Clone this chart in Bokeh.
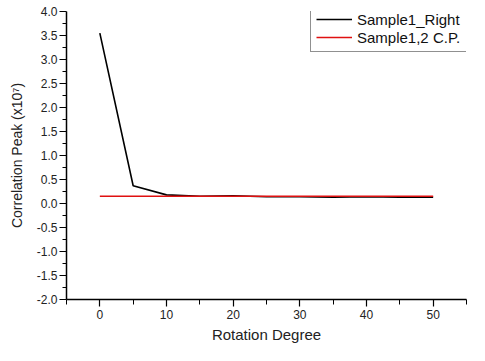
from bokeh.plotting import figure
from bokeh.models import FixedTicker, Range1d, Legend, LegendItem, NumeralTickFormatter
from bokeh.embed import file_html
from bokeh.resources import INLINE

# Data
rotation = [0, 5, 10, 15, 20, 25, 30, 35, 40, 45, 50]
sample1_right = [3.55, 0.37, 0.18, 0.15, 0.16, 0.14, 0.14, 0.13, 0.14, 0.13, 0.13]
sample12_cp = [0.15, 0.15, 0.15, 0.15, 0.15, 0.15, 0.15, 0.15, 0.15, 0.15, 0.15]

x_major = [0, 10, 20, 30, 40, 50]
x_minor = [-5, 5, 15, 25, 35, 45, 55]
y_major = [-2.0, -1.5, -1.0, -0.5, 0.0, 0.5, 1.0, 1.5, 2.0, 2.5, 3.0, 3.5, 4.0]
y_minor = [-1.75, -1.25, -0.75, -0.25, 0.25, 0.75, 1.25, 1.75, 2.25, 2.75, 3.25, 3.75]

FONT = "Liberation Sans"

p = figure(width=469, height=345, output_backend="svg", toolbar_location=None,
           x_range=Range1d(-5, 55), y_range=Range1d(-2, 4),
           min_border_left=66, min_border_right=3, min_border_top=11, min_border_bottom=43)

p.outline_line_color = None
p.grid.visible = False
p.background_fill_color = "white"
p.border_fill_color = "white"

r1 = p.line(rotation, sample1_right, line_color="black", line_width=1.6)
r2 = p.line(rotation, sample12_cp, line_color="#e01010", line_width=1.6)

p.xaxis.ticker = FixedTicker(ticks=x_major, minor_ticks=x_minor)
p.yaxis.ticker = FixedTicker(ticks=y_major, minor_ticks=y_minor)
p.yaxis.formatter = NumeralTickFormatter(format="0.0")

for ax in (p.xaxis, p.yaxis):
    ax.axis_line_color = "black"
    ax.axis_line_width = 1.5
    ax.major_tick_line_color = "black"
    ax.minor_tick_line_color = "black"
    ax.major_tick_line_width = 1.2
    ax.minor_tick_line_width = 1.0
    ax.major_tick_out = 7
    ax.major_tick_in = 0
    ax.minor_tick_in = 0
    ax.major_label_text_font = FONT
    ax.major_label_text_font_size = "12px"
    ax.major_label_text_color = "#222222"
    ax.axis_label_text_font = FONT
    ax.axis_label_text_font_style = "normal"
    ax.axis_label_text_color = "#222222"

p.xaxis.minor_tick_out = 5
p.yaxis.minor_tick_out = 4
p.xaxis.axis_label = "Rotation Degree"
p.yaxis.axis_label = "Correlation Peak (x10⁷)"
p.xaxis.axis_label_text_font_size = "15px"
p.yaxis.axis_label_text_font_size = "14px"
p.xaxis.major_label_standoff = 3
p.xaxis.axis_label_standoff = 4
p.yaxis.major_label_standoff = 2
p.yaxis.axis_label_standoff = 9

legend = Legend(items=[LegendItem(label="Sample1_Right", renderers=[r1]),
                       LegendItem(label="Sample1,2 C.P.", renderers=[r2])],
                location=(244, 247))
legend.border_line_color = "#222222"
legend.border_line_width = 1
legend.background_fill_color = "white"
legend.background_fill_alpha = 1
legend.label_text_font = FONT
legend.label_text_font_size = "15px"
legend.label_text_color = "#111111"
legend.glyph_width = 36
legend.glyph_height = 18
legend.label_height = 18
legend.label_standoff = 5
legend.padding = 5
legend.spacing = 0
legend.margin = 0
legend.label_width = 105
p.add_layout(legend, "center")

open("out.html", "w").write(file_html(p, INLINE))
